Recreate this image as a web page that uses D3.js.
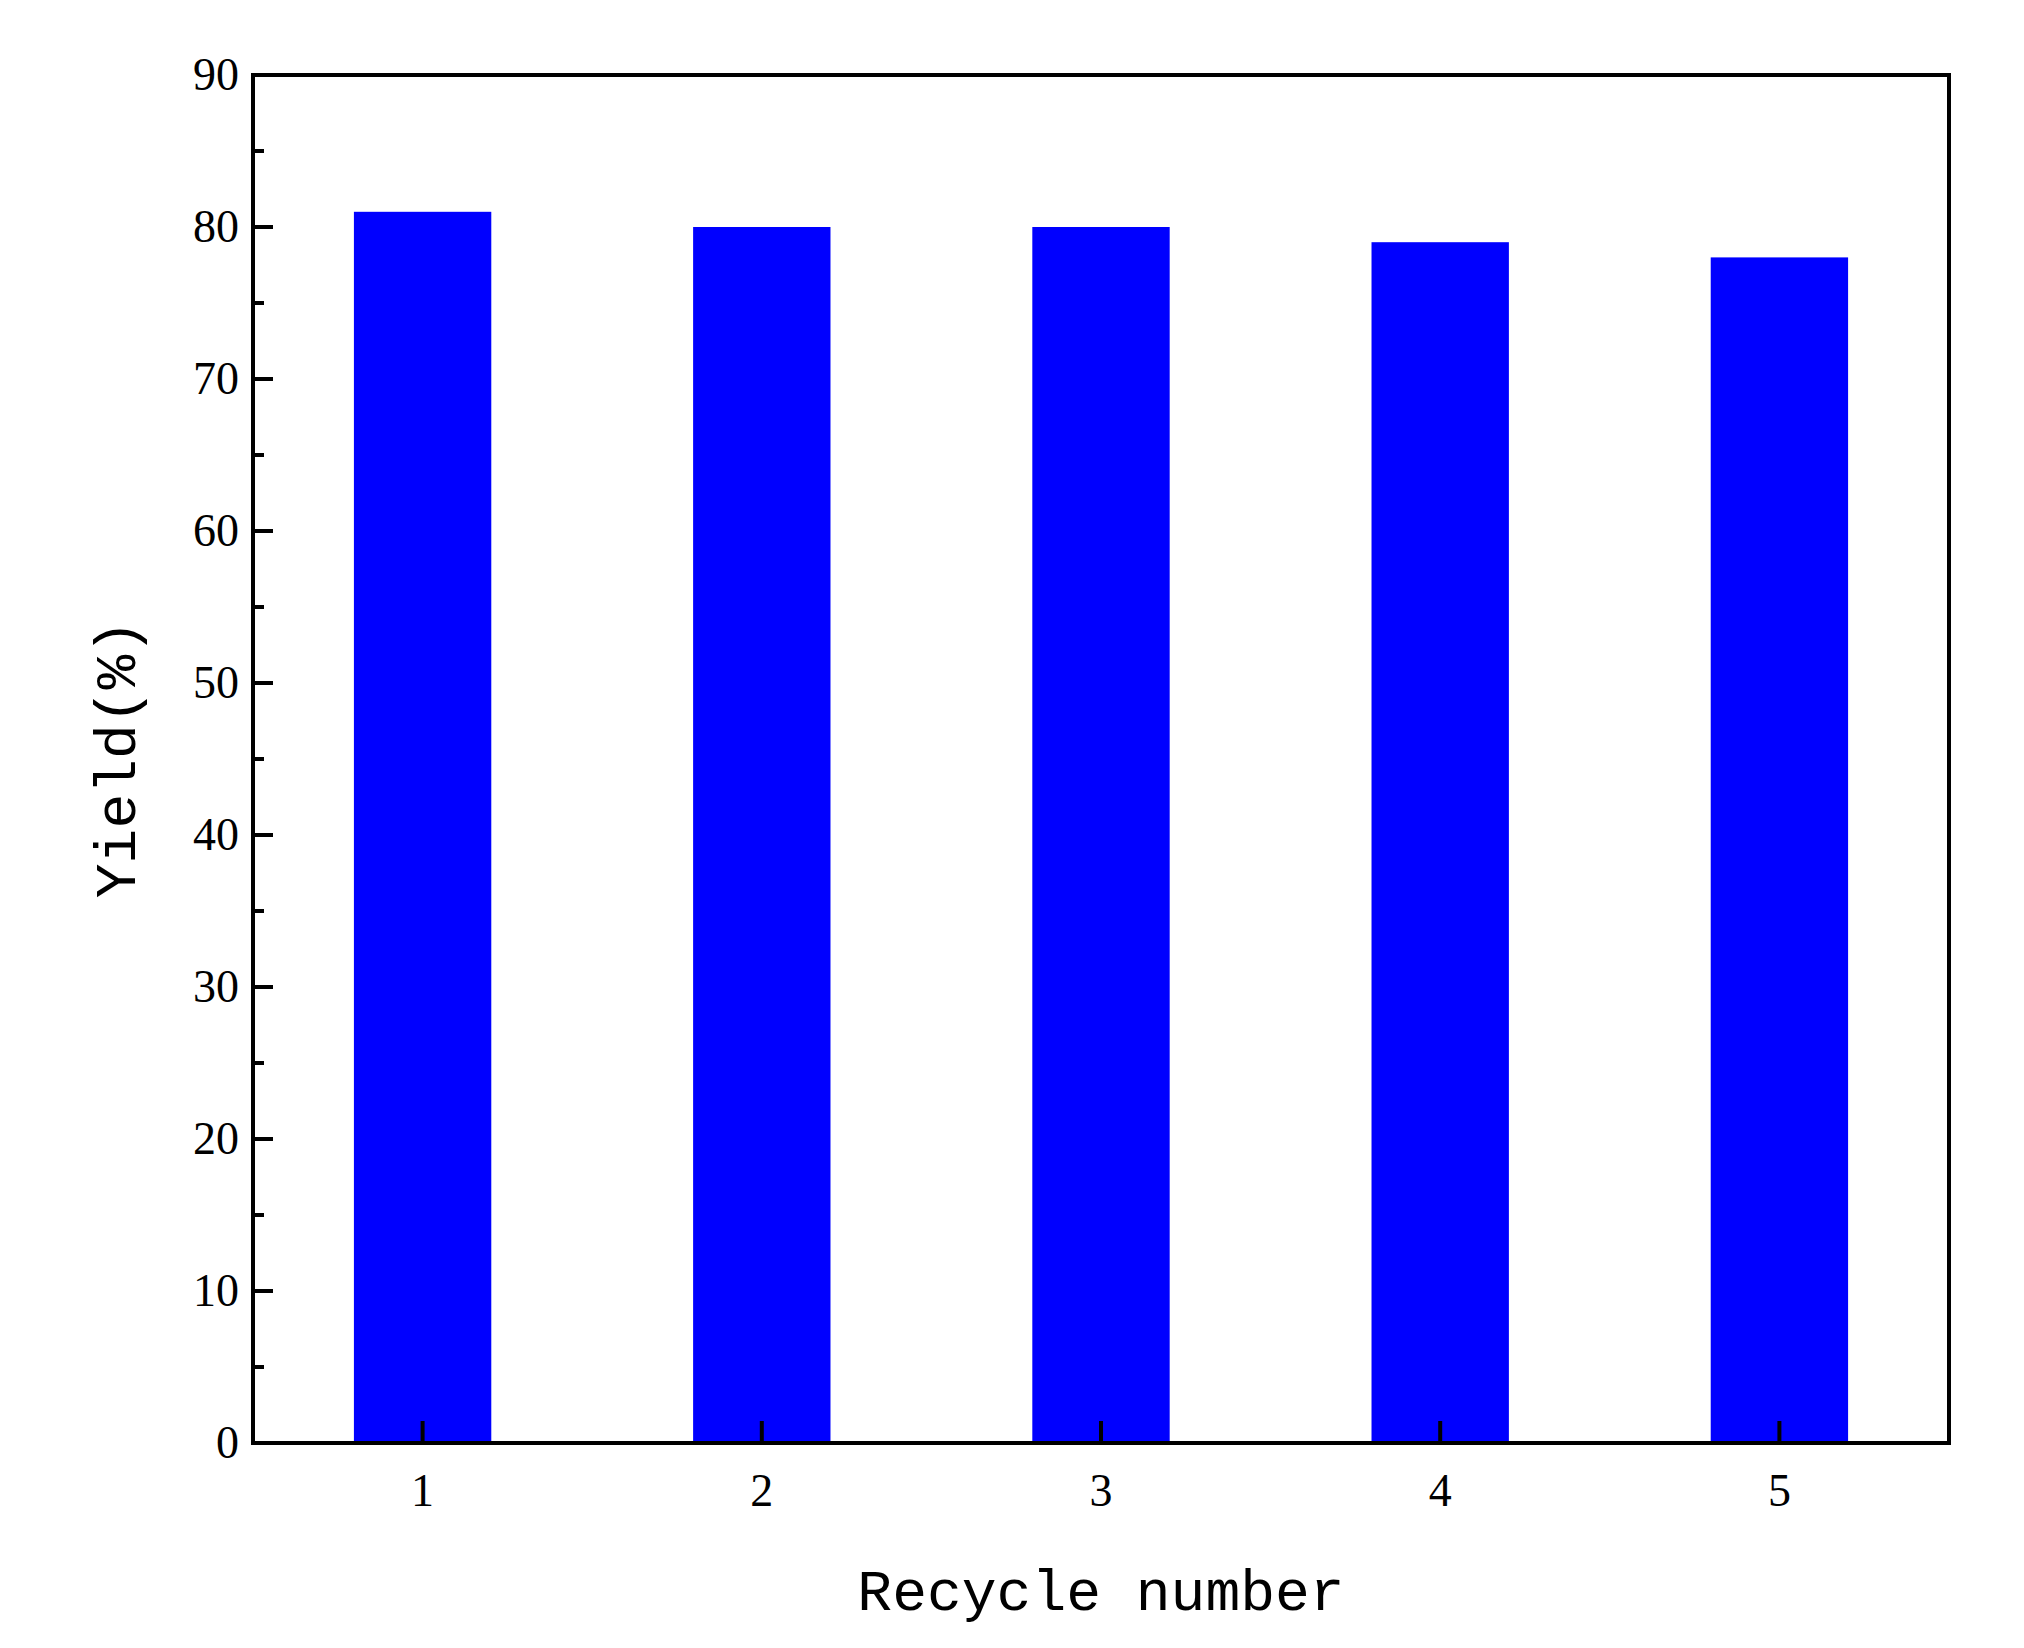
<!DOCTYPE html><html><head><meta charset="utf-8"><script src="https://cdn.jsdelivr.net/npm/d3@7"></script>
<style>body{margin:0;background:#fff}</style></head><body><svg id="c" width="2024" height="1648"></svg>
<script>
const categories=["1","2","3","4","5"];
const values=[81,80,80,79,78];
const yTicks=[0,10,20,30,40,50,60,70,80,90];
const svg=d3.select("#c");
const L=253,R=1949,T=75,B=1443;
const x=d3.scaleBand().domain(categories).range([L,R]).padding(0);
const y=d3.scaleLinear().domain([0,90]).range([B,T]);
const bw=x.bandwidth()*0.405;
svg.selectAll("rect.bar").data(values).join("rect").attr("class","bar")
 .attr("x",(d,i)=>x(categories[i])+x.bandwidth()/2-bw/2).attr("width",bw)
 .attr("y",d=>y(d)).attr("height",d=>B-y(d)).attr("fill","#0000ff");
const font="'Liberation Serif',serif";
const ya=svg.append("g").attr("transform",`translate(${L},0)`).call(d3.axisLeft(y).tickValues(yTicks).tickSize(0).tickPadding(14));
ya.select(".domain").remove();
ya.selectAll("text").attr("font-family",font).attr("font-size",46).attr("fill","#000");
// y ticks inward
const minor=d3.range(5,90,10);
svg.selectAll("line.ymaj").data(yTicks).join("line").attr("x1",L).attr("x2",L+20).attr("y1",d=>y(d)).attr("y2",d=>y(d)).attr("stroke","#000").attr("stroke-width",4);
svg.selectAll("line.ymin").data(minor).join("line").attr("x1",L).attr("x2",L+11).attr("y1",d=>y(d)).attr("y2",d=>y(d)).attr("stroke","#000").attr("stroke-width",4);
const xa=svg.append("g").attr("transform",`translate(0,${B})`).call(d3.axisBottom(x).tickSize(0).tickPadding(30));
xa.select(".domain").remove();
xa.selectAll("text").attr("font-family",font).attr("font-size",46).attr("fill","#000").attr("dy","0.71em");
svg.selectAll("line.xt").data(categories).join("line").attr("x1",d=>x(d)+x.bandwidth()/2).attr("x2",d=>x(d)+x.bandwidth()/2).attr("y1",B).attr("y2",B-22).attr("stroke","#000").attr("stroke-width",4);
svg.append("rect").attr("x",L).attr("y",T).attr("width",R-L).attr("height",B-T).attr("fill","none").attr("stroke","#000").attr("stroke-width",4);
svg.append("text").attr("x",(L+R)/2).attr("y",1610).attr("text-anchor","middle").attr("font-family","'Liberation Mono',monospace").attr("font-size",58).text("Recycle number");
svg.append("text").attr("transform",`translate(135,${(T+B)/2}) rotate(-90)`).attr("text-anchor","middle").attr("font-family","'Liberation Mono',monospace").attr("font-size",58).text("Yield(%)");
</script></body></html>
